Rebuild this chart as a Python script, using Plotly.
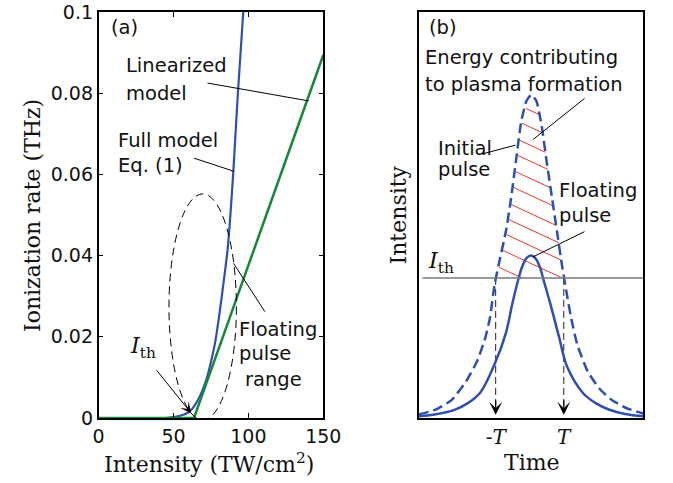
import numpy as np
import plotly.graph_objects as go

# ---------------- data: panel (a) ----------------
full_x = [0, 45, 50, 55, 60, 63, 66, 69, 72, 75, 78, 81, 84, 86, 88, 90, 93, 96.6, 98]
full_y = [0, 0, 0.0002, 0.0006, 0.0014, 0.0025, 0.0042, 0.0065, 0.0095, 0.0138,
          0.019, 0.0265, 0.035, 0.041, 0.050, 0.061, 0.080, 0.100, 0.109]
lin_x = [0, 63.7, 150]
lin_y = [0, 0, 0.0894]
a_xticks = [0, 50, 100, 150]
a_xticktext = ["0", "50", "100", "150"]
a_yticks = [0, 0.02, 0.04, 0.06, 0.08, 0.1]
a_yticktext = ["0", "0.02", "0.04", "0.06", "0.08", "0.1"]

# ---------------- data: panel (b) ----------------
time_init = [-3.26, -2.78, -2.30, -1.88, -1.55, -1.31, -1.17, -1.03, -0.88, -0.70, -0.55,
             -0.40, -0.25, -0.10, 0.05, 0.20, 0.35, 0.50, 0.65, 0.80, 0.95, 1.08, 1.22,
             1.40, 1.70, 2.05, 2.40, 2.85, 3.34]
initial_pulse = [0.009, 0.020, 0.044, 0.089, 0.139, 0.196, 0.246, 0.330, 0.39, 0.46, 0.54,
                 0.636, 0.73, 0.78, 0.796, 0.78, 0.72, 0.63, 0.545, 0.46, 0.375, 0.31, 0.245,
                 0.18, 0.115, 0.072, 0.045, 0.024, 0.011]
time_float = [-3.26, -2.80, -2.21, -1.83, -1.45, -1.03, -0.70, -0.51, -0.34, -0.22, -0.10,
              0.04, 0.18, 0.30, 0.42, 0.60, 0.86, 1.10, 1.57, 1.95, 2.32, 2.80, 3.34]
floating_pulse = [0.0043, 0.0085, 0.020, 0.036, 0.063, 0.133, 0.209, 0.282, 0.340, 0.373, 0.393,
                  0.400, 0.392, 0.371, 0.336, 0.283, 0.200, 0.126, 0.061, 0.036, 0.021, 0.010, 0.0045]
I_th = 0.345
T_ticks = [-1, 1]
T_ticktext = ["-<i>T</i>", "<i>T</i>"]
hatch_levels = [0.764, 0.727, 0.685, 0.648, 0.608, 0.569, 0.527, 0.490, 0.453, 0.414, 0.372]
hatch_slope = -0.039

# ---------------- styles ----------------
BLUE = "#2f4fb0"
GREEN = "#17883a"
RED = "#e8362e"
SANS = "DejaVu Sans"
SERIF = "DejaVu Serif"
W, H = 673, 483
TOP, BOT = 12, 418


def PX(x):
    return x / W


def PY(y):
    return (BOT - y) / (BOT - TOP)


fig = go.Figure()

# panel (a)
fig.add_trace(go.Scatter(x=full_x, y=full_y, mode="lines", line=dict(color=BLUE, width=2.2, shape="spline", smoothing=0.6),
                         xaxis="x", yaxis="y", showlegend=False))
fig.add_trace(go.Scatter(x=lin_x, y=lin_y, mode="lines", line=dict(color=GREEN, width=2.5),
                         xaxis="x", yaxis="y", showlegend=False))

# panel (b): hatching computed from the initial pulse curve
t_fine = np.linspace(min(time_init), max(time_init), 4000)
init_fine = np.interp(t_fine, time_init, initial_pulse)
ipk = int(np.argmax(init_fine))
hx, hy = [], []
for y0 in hatch_levels:
    tl = np.interp(y0, init_fine[:ipk + 1], t_fine[:ipk + 1])
    line = y0 + hatch_slope * (t_fine - tl)
    stop = (t_fine > tl + 0.02) & ((line <= I_th) | ((t_fine > t_fine[ipk]) & (line >= init_fine)))
    idx = np.argmax(stop)
    tr = t_fine[idx]
    hx += [tl + 0.03, tr, None]
    hy += [y0 + hatch_slope * 0.03, y0 + hatch_slope * (tr - tl), None]
fig.add_trace(go.Scatter(x=hx, y=hy, mode="lines", line=dict(color=RED, width=1),
                         xaxis="x2", yaxis="y2", showlegend=False))

# vertical dashed lines at +/-T
for tv in T_ticks:
    fig.add_trace(go.Scatter(x=[tv, tv], y=[I_th, 0.03], mode="lines",
                             line=dict(color="#222", width=1, dash="7px,4px"),
                             xaxis="x2", yaxis="y2", showlegend=False))

fig.add_trace(go.Scatter(x=time_init, y=initial_pulse, mode="lines",
                         line=dict(color=BLUE, width=2.5, dash="10px,5px", shape="spline", smoothing=0.5),
                         xaxis="x2", yaxis="y2", showlegend=False))
fig.add_trace(go.Scatter(x=time_float, y=floating_pulse, mode="lines",
                         line=dict(color=BLUE, width=2.5, shape="spline", smoothing=1.0),
                         xaxis="x2", yaxis="y2", showlegend=False))

shapes = [
    # ellipse "floating pulse range"
    dict(type="circle", xref="x", yref="y", x0=47, x1=92, y0=-0.0005, y1=0.0552,
         line=dict(color="black", width=1, dash="8px,5px")),
    # annotation leader lines (a)
    dict(type="line", xref="x", yref="y", x0=72.7, y0=0.0825, x1=140.3, y1=0.0781, line=dict(color="black", width=1)),
    dict(type="line", xref="x", yref="y", x0=63.7, y0=0.064, x1=90.1, y1=0.0608, line=dict(color="black", width=1)),
    dict(type="line", xref="x", yref="y", x0=111.0, y0=0.0262, x1=90.1, y1=0.0381, line=dict(color="black", width=1)),
    # threshold line (b)
    dict(type="line", xref="x2", yref="y2", x0=-3.15, x1=3.34, y0=I_th, y1=I_th, line=dict(color="#7a7a7a", width=1.5)),
    # leader lines (b)
    dict(type="line", xref="x2", yref="y2", x0=-1.41, y0=0.650, x1=-0.42, y1=0.672, line=dict(color="black", width=1)),
    dict(type="line", xref="x2", yref="y2", x0=1.61, y0=0.787, x1=0.10, y1=0.686, line=dict(color="black", width=1)),
    dict(type="line", xref="x2", yref="y2", x0=1.61, y0=0.459, x1=0.10, y1=0.397, line=dict(color="black", width=1)),
]

ann = []


def txt(s, x, y, size=19.5, font=SANS, xanchor="left", angle=0):
    ann.append(dict(text=s, x=PX(x), y=PY(y), xref="paper", yref="paper", showarrow=False,
                    xanchor=xanchor, yanchor="middle", textangle=angle,
                    font=dict(family=font, size=size, color="#111")))


# panel (a) texts
txt("(a)", 107, 28)
txt("Linearized", 122, 66)
txt("model", 122, 93)
txt("Full model", 114, 140)
txt("Eq. (1)", 114, 165)
txt("Floating", 240, 329)
txt("pulse", 240, 353)
txt("range", 246, 379)
txt("<i>I</i><sub>th</sub>", 126, 347, size=22, font=SERIF)
txt("Intensity (TW/cm<sup>2</sup>)", 210, 463, size=22, font=SERIF, xanchor="center")
txt("Ionization rate (THz)", 27, 216, size=22, font=SERIF, xanchor="center", angle=-90)

# panel (b) texts
txt("(b)", 437, 28)
txt("Energy contributing", 432, 58)
txt("to plasma formation", 432, 84)
txt("Initial", 446, 148)
txt("pulse", 446, 169)
txt("Floating", 571, 190)
txt("pulse", 571, 215)
txt("<i>I</i><sub>th</sub>", 436, 262, size=22, font=SERIF)
txt("Time", 545, 463, size=22, font=SERIF, xanchor="center")
txt("Intensity", 407, 215, size=22, font=SERIF, xanchor="center", angle=-90)

# arrows
ann.append(dict(x=61.8, y=0.0012, ax=38.0, ay=0.0121, xref="x", yref="y", axref="x", ayref="y",
                showarrow=True, arrowhead=3, arrowsize=1.8, arrowwidth=1, arrowcolor="black", text=""))
for tv in T_ticks:
    ann.append(dict(x=tv, y=0.008, ax=0, ay=-16, xref="x2", yref="y2",
                    showarrow=True, arrowhead=3, arrowsize=1.8, arrowwidth=1.2, arrowcolor="black", text=""))

fig.update_layout(
    width=W, height=H,
    margin=dict(l=0, r=0, t=TOP, b=H - BOT),
    paper_bgcolor="white", plot_bgcolor="white",
    shapes=shapes, annotations=ann,
    xaxis=dict(domain=[96 / W, 329 / W], range=[0, 150], tickvals=a_xticks, ticktext=a_xticktext,
               showline=True, mirror="ticks", linecolor="black", linewidth=1.5, ticks="inside", ticklen=5,
               tickcolor="black", showgrid=False, zeroline=False,
               tickfont=dict(family=SANS, size=19, color="#111")),
    yaxis=dict(domain=[0, 1], range=[0, 0.1], tickvals=a_yticks, ticktext=a_yticktext,
               showline=True, mirror="ticks", linecolor="black", linewidth=1.5, ticks="inside", ticklen=5,
               tickcolor="black", showgrid=False, zeroline=False,
               tickfont=dict(family=SANS, size=19, color="#111")),
    xaxis2=dict(domain=[428 / W, 661 / W], range=[-3.26, 3.34], tickvals=T_ticks, ticktext=T_ticktext,
                showline=True, mirror=True, linecolor="black", linewidth=1.5, ticks="",
                showgrid=False, zeroline=False, anchor="y2",
                tickfont=dict(family=SERIF, size=20, color="#111")),
    yaxis2=dict(domain=[0, 1], range=[0, 1], showticklabels=False, ticks="",
                showline=True, mirror=True, linecolor="black", linewidth=1.5,
                showgrid=False, zeroline=False, anchor="x2"),
)

fig.write_html("out.html")
